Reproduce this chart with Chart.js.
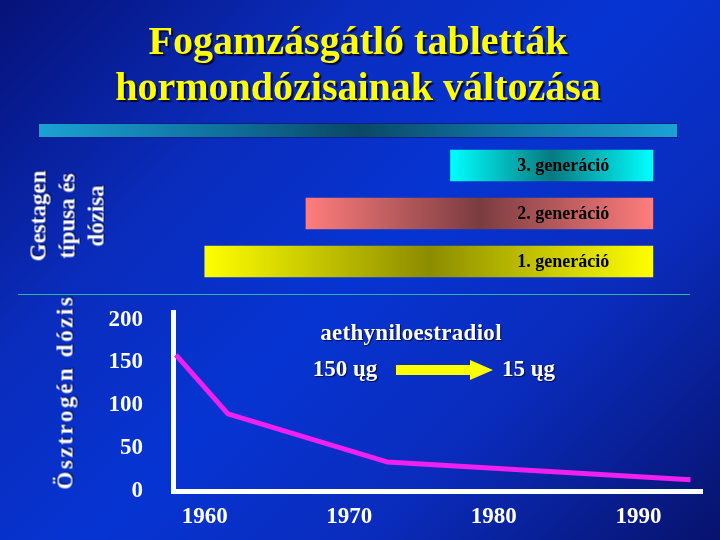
<!DOCTYPE html>
<html>
<head>
<meta charset="utf-8">
<script src="https://cdn.jsdelivr.net/npm/chart.js@4.4.1/dist/chart.umd.min.js"></script>
<style>
html,body{margin:0;padding:0}
body{width:720px;height:540px;overflow:hidden;position:relative;
  background:linear-gradient(135deg,#061278 0%,#0a2cbc 28%,#0634d2 50%,#0a2cbc 72%,#07126c 100%);
  font-family:"Liberation Serif","Times New Roman",serif;font-weight:bold}
canvas{position:absolute;left:0;top:0}
.t{position:absolute;white-space:nowrap;line-height:1}
.title{color:#ffff00;font-size:40px;left:358px;transform:translateX(-50%);text-shadow:2px 2px 1px #060830}
.w{color:#fff;font-size:23px;text-shadow:1px 1px 1px #000a40}
.rot{position:absolute;transform:translate(-50%,-50%) rotate(-90deg);white-space:nowrap;text-align:center;color:#fff;font-size:23px;text-shadow:1px 1px 1px #000a40}
#banner{position:absolute;left:38px;top:123px;width:638px;height:13px;border:1px solid #0d1e86;
  background:linear-gradient(90deg,#1aa2d4 0%,#0f6e9a 30%,#0a4866 50%,#0f6e9a 70%,#1aa2d4 100%)}
#rule{position:absolute;left:18px;top:294px;width:672px;height:1px;background:#2fb4a4}
</style>
</head>
<body>
<div id="banner"></div>
<div id="rule"></div>
<canvas id="genChart" width="720" height="540"></canvas>
<canvas id="doseChart" width="720" height="540"></canvas>

<div class="t title" style="top:21px">Fogamzásgátló tabletták</div>
<div class="t title" style="top:67px">hormondózisainak változása</div>
<div class="rot" style="left:67px;top:216px;line-height:29px">Gestagen<br>típusa és<br>dózisa</div>
<div class="rot" style="left:65px;top:392px;line-height:29px;letter-spacing:2.6px">Ösztrogén dózis</div>
<div class="t w" style="left:411px;top:321px;transform:translateX(-50%);letter-spacing:0.3px">aethyniloestradiol</div>
<div class="t w" style="left:345px;top:357px;transform:translateX(-50%)">150 ųg</div>
<div class="t w" style="left:502px;top:357px">15 ųg</div>

<script>
// ─── DATA ────────────────────────────────────────────────────────────────────
const genLabels=['3. generáció','2. generáció','1. generáció'];
const genStart=[1977,1967,1960];
const genEnd=[1991,1991,1991];

const doseYears=[1958,1961.6,1972.6,1993.6];
const doseValues=[159,90,34,13];

const xTicks=[1960,1970,1980,1990];
const yTicks=[0,50,100,150,200];

// ─── STYLE ───────────────────────────────────────────────────────────────────
const X_MIN=1957.8, X_MAX=1994.4;
const genEdge=['#00ffff','#ff7d7d','#ffff00'];
const genMid=['#067a80','#7a3c40','#8c8c00'];
const serif='"Liberation Serif","Times New Roman",serif';

const genText={id:'genText',afterDatasetsDraw(c){
  const ctx=c.ctx, x=c.scales.x.getPixelForValue(1984.8);
  c.getDatasetMeta(0).data.forEach((b,i)=>{
    ctx.save();
    ctx.font='bold 18px '+serif; ctx.textAlign='center'; ctx.textBaseline='middle';
    ctx.fillStyle='#000'; ctx.fillText(genLabels[i],x,b.y+1);
    ctx.restore();
  });
}};

new Chart(document.getElementById('genChart'),{
  type:'bar',
  data:{labels:genLabels,datasets:[{
    data:genStart.map((s,i)=>[s,genEnd[i]]),
    barThickness:31,borderWidth:0,borderSkipped:false,
    backgroundColor:c=>{
      const ch=c.chart, i=c.dataIndex;
      if(!ch.chartArea||c.raw==null) return genEdge[i||0];
      const x=ch.scales.x, x0=x.getPixelForValue(c.raw[0]), x1=x.getPixelForValue(c.raw[1]);
      const g=ch.ctx.createLinearGradient(x0,0,x1,0);
      g.addColorStop(0,genEdge[i]); g.addColorStop(0.5,genMid[i]); g.addColorStop(1,genEdge[i]);
      return g;
    }
  }]},
  options:{
    indexAxis:'y',responsive:false,animation:false,
    layout:{padding:{top:141.5,bottom:254.5,left:173,right:18}},
    plugins:{legend:{display:false},tooltip:{enabled:false}},
    scales:{
      x:{type:'linear',min:X_MIN,max:X_MAX,display:false},
      y:{display:false}
    }
  },
  plugins:[genText]
});

// arrow between the two doses
const arrow={id:'arrow',afterDraw(c){
  const ctx=c.ctx;
  ctx.save(); ctx.fillStyle='#ffff00';
  ctx.beginPath();
  ctx.moveTo(396,365); ctx.lineTo(470,365); ctx.lineTo(470,360); ctx.lineTo(493,370);
  ctx.lineTo(470,380); ctx.lineTo(470,375); ctx.lineTo(396,375); ctx.closePath(); ctx.fill();
  ctx.restore();
}};

const tickFont={family:serif,size:23,weight:'bold'};
new Chart(document.getElementById('doseChart'),{
  type:'line',
  data:{datasets:[{
    data:doseYears.map((x,i)=>({x,y:doseValues[i]})),
    borderColor:'#f020f0',borderWidth:5,pointRadius:0,tension:0,fill:false,borderJoinStyle:'round'
  }]},
  options:{
    responsive:false,animation:false,
    layout:{padding:{top:312,right:18,left:0,bottom:0}},
    plugins:{legend:{display:false},tooltip:{enabled:false}},
    scales:{
      x:{type:'linear',min:X_MIN,max:X_MAX,
        afterBuildTicks:s=>{s.ticks=xTicks.map(v=>({value:v}));},
        afterFit:s=>{s.height=49;},
        grid:{display:false,drawTicks:false},border:{color:'#fff',width:5},
        ticks:{color:'#fff',font:tickFont,padding:12,autoSkip:false,maxRotation:0,callback:v=>String(v)}},
      y:{min:0,max:209,
        afterBuildTicks:s=>{s.ticks=yTicks.map(v=>({value:v}));},
        afterFit:s=>{s.width=173;},
        grid:{display:false,drawTicks:false},border:{color:'#fff',width:5},
        ticks:{color:'#fff',font:tickFont,padding:30,callback:v=>String(v)}}
    }
  },
  plugins:[arrow]
});
</script>
</body>
</html>
